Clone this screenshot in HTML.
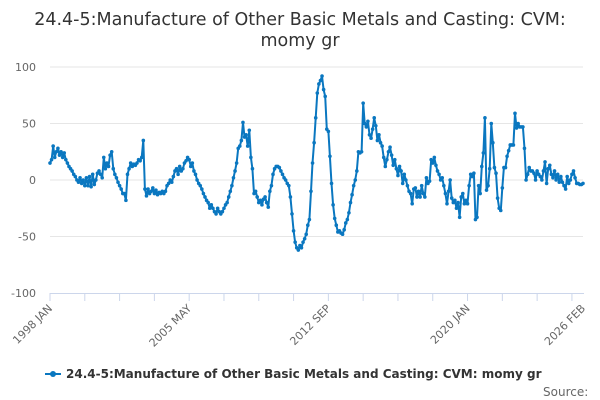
<!DOCTYPE html>
<html><head><meta charset="utf-8"><style>
body{margin:0;background:#fff;font-family:"DejaVu Sans","Liberation Sans",sans-serif;}
svg{display:block}
</style></head><body>
<svg id="chart" width="600" height="400" viewBox="0 0 600 400" font-family="DejaVu Sans, Liberation Sans, sans-serif">
<text x="300" y="25" text-anchor="middle" font-size="17.5" fill="#333">24.4-5:Manufacture of Other Basic Metals and Casting: CVM:</text>
<text x="300" y="46" text-anchor="middle" font-size="17.5" fill="#333">momy gr</text>
<g id="grid"></g>
<g id="yaxis"></g>
<g id="xaxis"></g>
<g id="series"></g>
<g>
<line x1="45" y1="374" x2="61" y2="374" stroke="#0a77c0" stroke-width="2"/>
<circle cx="53" cy="374" r="3" fill="#0a77c0"/>
<text x="66" y="378" font-size="12" font-weight="bold" fill="#333">24.4-5:Manufacture of Other Basic Metals and Casting: CVM: momy gr</text>
</g>
<text x="543" y="396" font-size="12" fill="#666">Source:</text>
</svg>
<script>
const values = [
15,18,30,20,25,28,22,25,20,24,18,15,
12,10,8,5,3,0,-2,2,-3,0,-5,2,
-5,3,-6,5,-4,0,6,8,5,2,20,10,
15,12,22,25,10,5,2,-2,-5,-8,-12,-12,
-18,5,10,15,12,14,13,15,18,17,20,35,
-8,-14,-8,-12,-10,-7,-12,-9,-13,-11,-12,-10,
-12,-10,-5,-3,0,-2,3,8,10,5,12,8,
10,15,17,20,18,12,15,8,5,0,-3,-5,
-8,-12,-15,-18,-20,-25,-22,-25,-28,-30,-25,-28,
-30,-28,-25,-22,-20,-15,-10,-5,2,8,15,28,
30,35,51,38,40,30,44,20,10,-12,-10,-15,
-20,-18,-22,-17,-15,-20,-24,-10,-5,5,10,12,
12,11,8,5,2,0,-3,-5,-15,-30,-45,-55,
-60,-62,-58,-60,-55,-52,-48,-40,-35,-10,15,33,
55,77,85,88,92,80,74,45,43,21,-3,-22,
-34,-40,-46,-45,-47,-48,-44,-38,-35,-29,-20,-13,
-5,0,8,25,24,25,68,50,47,52,40,37,
45,55,48,35,40,33,30,20,12,18,25,29,
22,13,18,10,4,12,8,-3,5,0,-5,-10,
-12,-21,-8,-7,-15,-10,-15,-5,-12,-15,2,-3,
-1,18,15,20,13,8,5,0,2,-5,-12,-21,
-10,0,-16,-20,-18,-25,-20,-33,-15,-12,-21,-18,
-21,-5,5,3,6,-35,-33,-5,-12,12,24,55,
-9,-5,10,50,33,11,6,-16,-25,-27,-7,11,
11,21,26,31,31,31,59,46,50,47,47,47,
28,0,5,11,8,8,6,0,8,5,3,0,
8,16,-3,10,13,5,2,8,0,5,-2,3,
-2,-5,-8,3,-3,0,5,8,2,-3,-3,-4,
-4,-3];
const yTicks = [100,50,0,-50,-100];
const xLabels = ["1998 JAN","2005 MAY","2012 SEP","2020 JAN","2026 FEB"];
const xLabelMonths = [0,88,176,264,337];

const NS="http://www.w3.org/2000/svg";
const X0=50,X1=583,Y0=180,YS=113/100;
const nMonths=337;
const xs=m=>X0+m*(X1-X0)/nMonths;
const ys=v=>Y0-v*YS;
function mk(tag,attrs,parent){const e=document.createElementNS(NS,tag);for(const k in attrs)e.setAttribute(k,attrs[k]);parent.appendChild(e);return e;}
const grid=document.getElementById('grid'),ya=document.getElementById('yaxis'),xa=document.getElementById('xaxis'),ser=document.getElementById('series');
yTicks.forEach(t=>{
  if(t!==-100){const l=mk('line',{x1:X0,x2:X1,y1:ys(t),y2:ys(t),stroke:'#e6e6e6','stroke-width':1},grid);
  
  }
  const tx=mk('text',{x:36,y:ys(t)+4,'text-anchor':'end','font-size':11,fill:'#666'},ya);
  tx.textContent=t;
  
  
});
const al=mk('line',{x1:X0,x2:X1+1,y1:ys(-100)+0.5,y2:ys(-100)+0.5,stroke:'#ccd6eb','stroke-width':1},xa);


for(let m=0;m<=nMonths;m+=22){
  const tk=mk('line',{x1:xs(m),x2:xs(m),y1:ys(-100),y2:ys(-100)+8,stroke:'#ccd6eb'},xa);
  
  
}
xLabels.forEach((s,i)=>{
  const x=xs(xLabelMonths[i]),y=ys(-100)+10;
  const tx=mk('text',{x:x+3,y:y+6,'text-anchor':'end','font-size':11,fill:'#666',transform:`rotate(-45 ${x+3} ${y+6})`},xa);
  tx.textContent=s;
  
  
});
const pts=values.map((v,i)=>xs(i).toFixed(1)+','+ys(v).toFixed(1)).join(' ');
const pl=mk('polyline',{points:pts,fill:'none',stroke:'#0a77c0','stroke-width':2,'stroke-linejoin':'round'},ser);


values.forEach((v,i)=>{
  const c=mk('circle',{cx:xs(i),cy:ys(v),r:1.8,fill:'#0a77c0'},ser);
  
  
});
</script>
</body></html>
